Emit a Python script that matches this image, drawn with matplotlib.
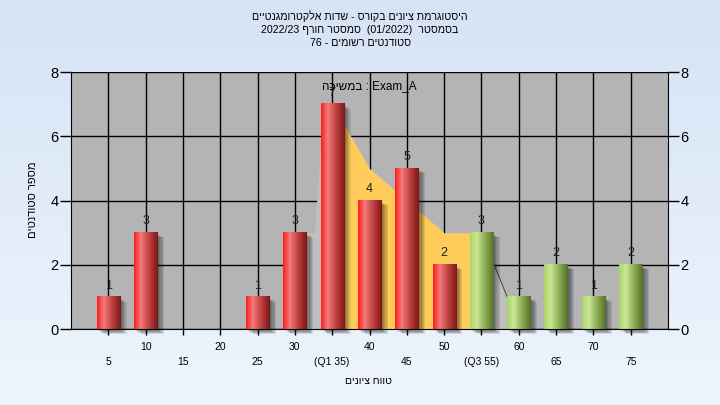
import numpy as np
import matplotlib
matplotlib.use('Agg')
import matplotlib.pyplot as plt
import matplotlib.transforms as mtransforms
from matplotlib.colors import LinearSegmentedColormap
from matplotlib.patches import Rectangle

# ===================== data ==============================
grades = [5, 10, 15, 20, 25, 30, 35, 40, 45, 50, 55, 60, 65, 70, 75]
counts = [1, 3, 0, 0, 1, 3, 7, 4, 5, 2, 3, 1, 2, 1, 2]
q1_grade = 35
q3_grade = 55

# background area (grade -> height)
area_grades = [30, 32.6, 33.85, 35, 40, 50, 55, 58.45, 60]
area_counts = [3, 3, 7, 7, 5, 3, 3, 1, 1]

title_lines = ["היסטוגרמת ציונים בקורס - שדות אלקטרומגנטיים",
               "בסמסטר  (01/2022)  סמסטר חורף 2022/23",
               "סטודנטים רשומים - 76"]
exam_label = "Exam_A : במשיכה"
x_title = "טווח ציונים"
y_title = "מספר סטודנטים"

plt.rcParams['font.family'] = ['Liberation Sans', 'DejaVu Sans']


def visual(s):
    # crude bidi for an RTL paragraph: reverse, keep latin/digit runs LTR
    out = []
    run = ''
    for ch in s[::-1]:
        if ch.isascii() and (ch.isalnum() or ch in '/._'):
            run += ch
        else:
            if run:
                out.append(run[::-1])
                run = ''
            out.append({'(': ')', ')': '('}.get(ch, ch))
    if run:
        out.append(run[::-1])
    return ''.join(out)


def g2i(g):
    return np.asarray(g, dtype=float) / 5 - 1


W, H = 720, 405
fig = plt.figure(figsize=(W / 100, H / 100), dpi=100)

# light blue gradient background
bg = fig.add_axes([0, 0, 1, 1], zorder=-10)
bg_cmap = LinearSegmentedColormap.from_list('bg', ['#eef5fd', '#d6e3f5'])
bg.imshow(np.linspace(0, 1, 256).reshape(-1, 1), cmap=bg_cmap, aspect='auto',
          extent=[0, 1, 0, 1], origin='lower')
bg.axis('off')

left, right, top, bottom = 71, 668, 72, 329.3
ax = fig.add_axes([left / W, 1 - bottom / H, (right - left) / W, (bottom - top) / H])
ax.set_facecolor('#b4b4b4')
xlim = (-1, len(grades))
ylim = (0, 8)
px_x = (xlim[1] - xlim[0]) / (right - left)
px_y = (ylim[1] - ylim[0]) / (bottom - top)

# grid
ax.set_axisbelow(True)
ax.set_xticks(range(len(grades)))
ax.set_xticklabels([])
ax.set_yticks(range(0, 9, 2))
ax.grid(True, color='black', linewidth=1.0)

# area behind the bars
ax_x = g2i(area_grades)
ax_y = np.array(area_counts, dtype=float)
i_q1, i_q3 = g2i(q1_grade), g2i(q3_grade)
ax.fill_between(ax_x, ax_y, where=ax_x <= i_q1, color='#bfbfbf', lw=0, zorder=1)
ax.fill_between(ax_x, ax_y, where=ax_x >= i_q3, color='#bfbfbf', lw=0, zorder=1)
ax.fill_between(ax_x, ax_y, where=(ax_x >= i_q1) & (ax_x <= i_q3),
                color='#ffcc5c', lw=0, zorder=1.2)
right_part = ax_x >= i_q3
ax.plot(ax_x[right_part], ax_y[right_part], color='#505050', lw=0.8, zorder=1.3)

# bars with cylinder shading and soft shadow
red_cmap = LinearSegmentedColormap.from_list(
    'red', [(0, '#ff1c1c'), (0.28, '#f27b7b'), (0.6, '#c54545'), (1, '#7e1616')])
green_cmap = LinearSegmentedColormap.from_list(
    'green', [(0, '#a9d468'), (0.28, '#cbe796'), (0.6, '#93b35a'), (1, '#55702a')])
grad = np.linspace(0, 1, 64).reshape(1, -1)
bw = 0.62
for i, (g, c) in enumerate(zip(grades, counts)):
    if c == 0:
        continue
    x0 = i - bw / 2
    for k in range(5):
        ax.add_patch(Rectangle((x0 + (2 + 1.2 * k) * px_x, -(2 + 0.6 * k) * px_y), bw, c,
                               facecolor='black', alpha=0.10, lw=0, zorder=2.5,
                               clip_on=False))
    cmap = red_cmap if g < q3_grade else green_cmap
    ax.imshow(grad, cmap=cmap, extent=[x0, x0 + bw, 0, c], aspect='auto',
              interpolation='bilinear', zorder=3)
    ax.annotate(str(c), (i, c), xytext=(0, 4), textcoords='offset points',
                ha='center', va='bottom', fontsize=9, color='#202020', zorder=5)

ax.set_xlim(*xlim)
ax.set_ylim(*ylim)

for s in ['left', 'right', 'bottom']:
    ax.spines[s].set_color('black')
    ax.spines[s].set_zorder(4)
ax.spines['top'].set_visible(False)

ax.tick_params(axis='y', which='both', left=True, right=True, labelleft=True,
               labelright=True, length=8, width=1, labelsize=10.5, pad=1)
ax.tick_params(axis='x', length=4, width=1)

# staggered category labels
xt = [str(g) for g in grades]
xt[grades.index(q1_grade)] = '(Q1 %d)' % q1_grade
xt[grades.index(q3_grade)] = '(Q3 %d)' % q3_grade
trans = mtransforms.blended_transform_factory(ax.transData, ax.transAxes)
for i, lab in enumerate(xt):
    yy = -0.069 if i % 2 else -0.129
    ax.text(i, yy, lab, transform=trans, ha='center', va='center', fontsize=7.5)

ax.text(0.5, 0.946, visual(exam_label), transform=ax.transAxes, ha='center',
        va='center', fontsize=8.5, zorder=6)

fig.text(368 / W, 1 - 381 / H, visual(x_title), ha='center', va='center', fontsize=7.5)
fig.text(33 / W, 1 - 200 / H, visual(y_title), ha='center', va='center',
         fontsize=8, rotation=90)
for k, line in enumerate(title_lines):
    fig.text(360 / W, 1 - (16.5 + 13.3 * k) / H, visual(line), ha='center',
             va='center', fontsize=7.7)

fig.savefig('out.png', dpi=100)
